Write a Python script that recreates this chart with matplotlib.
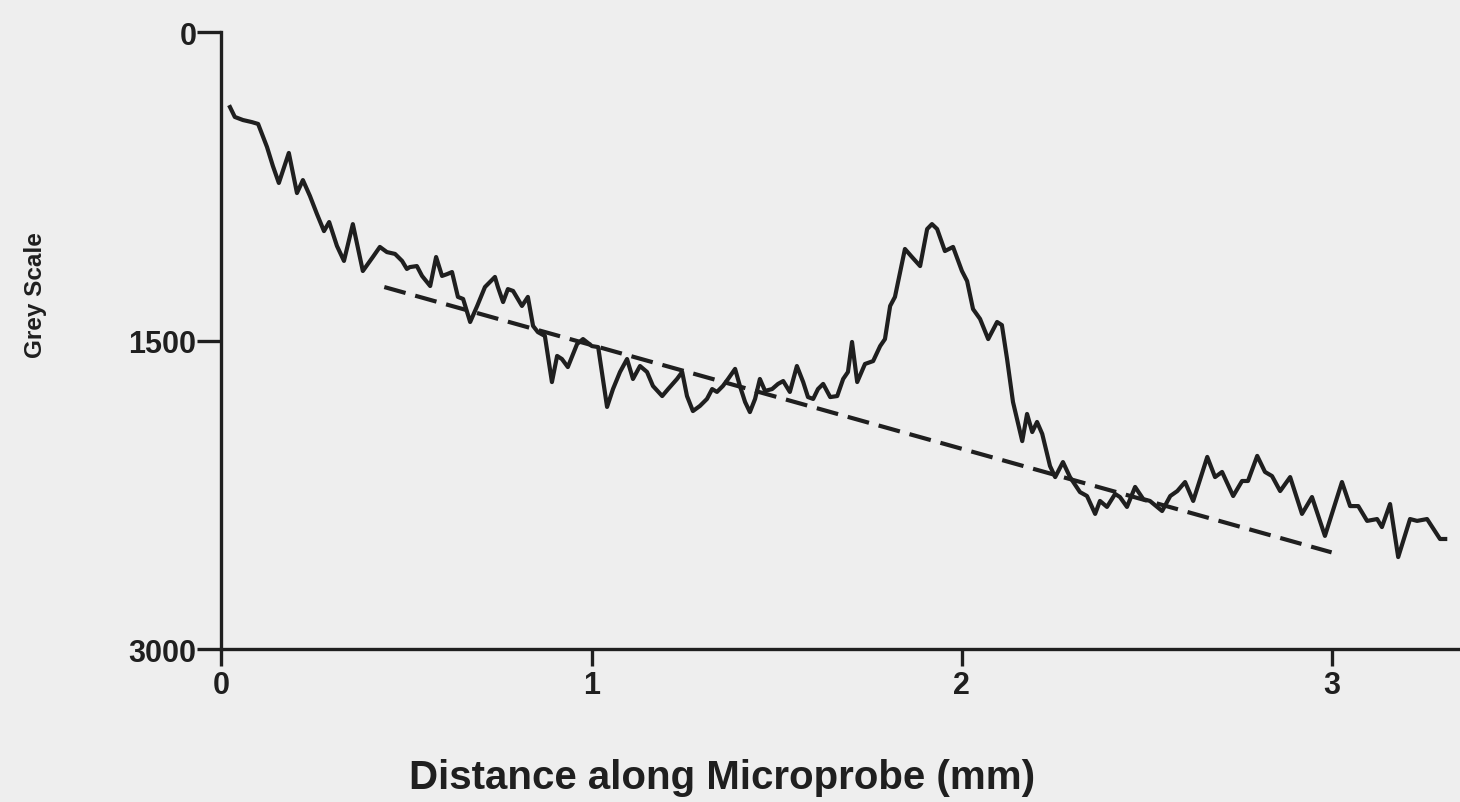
"""
Grey-scale profile along the microprobe with the fitted background trend.
"""

import matplotlib.pyplot as plt
import numpy as np

# Grey-scale trace along the probe (distance in mm, grey level)
distance = [
    0.023, 0.036, 0.058, 0.082, 0.099, 0.123, 0.139, 0.155, 0.182, 0.204,
    0.220, 0.239, 0.258, 0.277, 0.291, 0.312, 0.331, 0.355, 0.382, 0.409,
    0.428, 0.447, 0.469, 0.488, 0.501, 0.509, 0.528, 0.542, 0.564, 0.580,
    0.596, 0.610, 0.623, 0.639, 0.653, 0.672, 0.691, 0.712, 0.739, 0.747,
    0.761, 0.774, 0.788, 0.812, 0.828, 0.842, 0.855, 0.874, 0.893, 0.907,
    0.920, 0.936, 0.961, 0.977, 1.001, 1.018, 1.042, 1.058, 1.077, 1.096,
    1.112, 1.131, 1.150, 1.166, 1.191, 1.207, 1.231, 1.245, 1.258, 1.274,
    1.293, 1.312, 1.326, 1.339, 1.355, 1.369, 1.388, 1.401, 1.415, 1.428,
    1.442, 1.455, 1.469, 1.488, 1.504, 1.518, 1.536, 1.555, 1.572, 1.585,
    1.599, 1.612, 1.626, 1.645, 1.664, 1.680, 1.693, 1.704, 1.718, 1.739,
    1.761, 1.780, 1.793, 1.807, 1.820, 1.847, 1.866, 1.888, 1.907, 1.920,
    1.934, 1.955, 1.977, 2.001, 2.015, 2.031, 2.050, 2.072, 2.096, 2.109,
    2.123, 2.139, 2.164, 2.177, 2.191, 2.204, 2.218, 2.239, 2.253, 2.274,
    2.293, 2.320, 2.339, 2.361, 2.374, 2.393, 2.415, 2.428, 2.447, 2.469,
    2.491, 2.509, 2.542, 2.564, 2.583, 2.604, 2.626, 2.664, 2.685, 2.704,
    2.734, 2.758, 2.774, 2.799, 2.820, 2.839, 2.861, 2.888, 2.920, 2.947,
    2.982, 3.028, 3.050, 3.072, 3.096, 3.123, 3.136, 3.158, 3.180, 3.212,
    3.231, 3.258, 3.293, 3.307,
]
grey = [
    365, 413, 428, 438, 447, 559, 652, 734, 588, 783,
    720, 797, 885, 968, 924, 1040, 1113, 934, 1162, 1094,
    1045, 1070, 1079, 1113, 1152, 1143, 1138, 1186, 1235, 1094,
    1186, 1177, 1167, 1288, 1298, 1410, 1332, 1240, 1191, 1240,
    1313, 1250, 1259, 1332, 1288, 1429, 1459, 1478, 1702, 1575,
    1590, 1629, 1517, 1493, 1527, 1532, 1823, 1736, 1653, 1590,
    1687, 1624, 1653, 1721, 1770, 1736, 1687, 1653, 1770, 1843,
    1818, 1784, 1736, 1750, 1721, 1687, 1638, 1721, 1799, 1848,
    1784, 1687, 1745, 1736, 1711, 1697, 1750, 1624, 1702, 1775,
    1784, 1736, 1711, 1775, 1770, 1687, 1653, 1507, 1702, 1614,
    1600, 1527, 1493, 1332, 1288, 1055, 1094, 1138, 958, 934,
    958, 1065, 1045, 1162, 1211, 1347, 1395, 1493, 1410, 1425,
    1590, 1799, 1989, 1857, 1945, 1896, 1954, 2110, 2164, 2091,
    2164, 2237, 2256, 2343, 2280, 2309, 2246, 2261, 2309, 2212,
    2271, 2280, 2329, 2256, 2232, 2188, 2280, 2066, 2164, 2139,
    2256, 2183, 2183, 2061, 2139, 2159, 2232, 2164, 2343, 2261,
    2450, 2188, 2305, 2305, 2377, 2368, 2407, 2295, 2553, 2368,
    2377, 2368, 2465, 2465,
]

# Background trend line
fit_distance = [0.44, 3.0]
fit_grey = [1240, 2530]

y_ticks = [0, 1500, 3000]
x_ticks = [0, 1, 2, 3]

ink = "#1f1f1f"
paper = "#eeeeee"


def plot_profile():
    plt.rcParams["font.family"] = ["Liberation Sans", "DejaVu Sans"]
    plt.rcParams["font.weight"] = "bold"

    fig = plt.figure(figsize=(14.6, 8.03), dpi=100, facecolor=paper)
    ax = fig.add_axes([0.1517, 0.1905, 0.8483, 0.7684], facecolor=paper)

    ax.plot(distance, grey, color=ink, linewidth=3.0, solid_joinstyle="round")
    ax.plot(fit_distance, fit_grey, color=ink, linewidth=3.0,
            linestyle=(0, (5.3, 2.4)), dash_capstyle="butt")

    ax.set_xlim(0, 3.347)
    ax.set_ylim(3000, 0)
    ax.set_xticks(x_ticks)
    ax.set_yticks(y_ticks)

    for side in ("top", "right"):
        ax.spines[side].set_visible(False)
    for side in ("left", "bottom"):
        ax.spines[side].set_linewidth(2.4)
        ax.spines[side].set_color(ink)

    ax.tick_params(axis="y", length=17, width=2.4, pad=1, labelsize=22,
                   colors=ink)
    ax.tick_params(axis="x", length=12, width=2.4, pad=3, labelsize=22,
                   colors=ink)

    ax.set_xlabel("Distance along Microprobe (mm)", fontsize=29,
                  fontweight="bold", color=ink)
    ax.xaxis.set_label_coords(0.404, -0.176)
    ax.set_ylabel("Grey Scale", fontsize=17.5, fontweight="bold", color=ink)
    ax.yaxis.set_label_coords(-0.141, 0.575)

    fig.savefig("out.png", dpi=100, facecolor=paper)


if __name__ == "__main__":
    plot_profile()
